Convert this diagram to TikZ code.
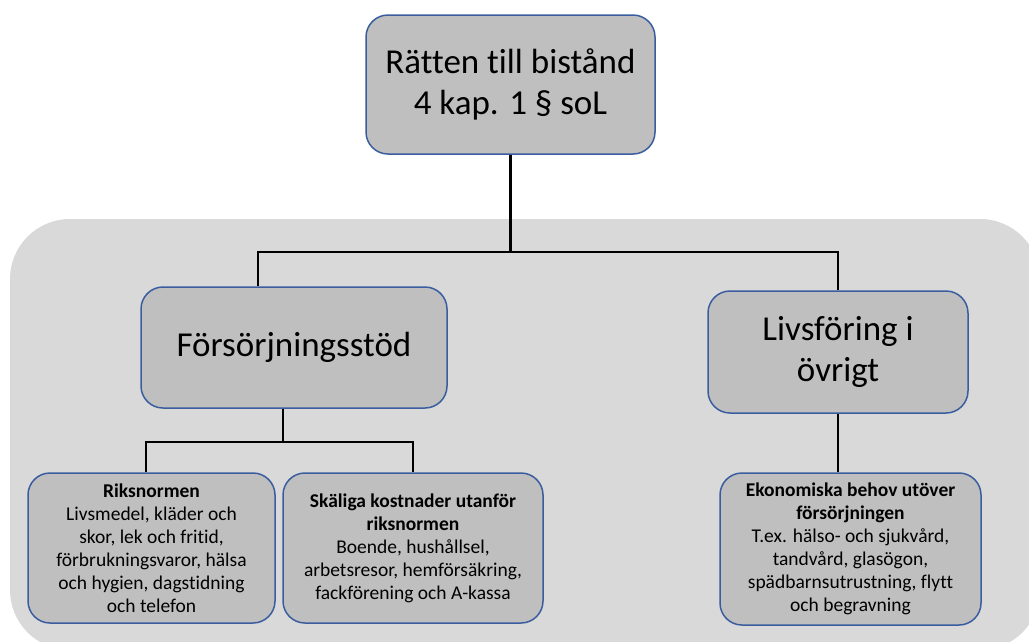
\documentclass[tikz,border=0pt]{standalone}
\usepackage{fontspec}
\setmainfont[Ligatures=NoCommon]{Carlito}
\usetikzlibrary{positioning}
\definecolor{bggray}{HTML}{D9D9D9}
\definecolor{boxgray}{HTML}{BFBFBF}
\definecolor{boxblue}{HTML}{3A5DA0}

\begin{document}
\begin{tikzpicture}[x=1pt, y=1pt,
  bigbox/.style={draw=boxblue, fill=boxgray, line width=1.5pt, rounded corners=22pt,
    align=center, inner sep=0pt, font=\fontsize{35}{41}\selectfont},
  smallbox/.style={draw=boxblue, fill=boxgray, line width=1.5pt, rounded corners=22pt,
    align=center, inner sep=0pt, font=\fontsize{19.5}{23}\selectfont},
  link/.style={line width=2.5pt}]

  \useasboundingbox (0,0) rectangle (1029,-641);
  \clip (0,0) rectangle (1029,-641);

  %% background panel
  \fill[bggray, rounded corners=60pt] (10,-219) rectangle (1040,-650);

  %% boxes
  \node[bigbox, minimum width=289pt, minimum height=139pt] (ratt) at (510.5,-84.5)
    {R\"atten till bist\aa nd\\4 kap. 1 \S{} soL};
  \node[bigbox, minimum width=306pt, minimum height=121pt] (fors) at (294,-347.5)
    {F\"ors\"orjningsst\"od};
  \node[bigbox, minimum width=260pt, minimum height=122pt] (livs) at (838,-352)
    {Livsf\"oring i\\\"ovrigt};

  \node[smallbox, minimum width=247pt, minimum height=150pt] (riks) at (151.5,-548)
    {\textbf{Riksnormen}\\Livsmedel, kl\"ader och\\skor, lek och fritid,\\f\"orbrukningsvaror, h\"alsa\\och hygien, dagstidning\\och telefon};
  \node[smallbox, minimum width=260pt, minimum height=150pt] (skal) at (413,-548)
    {\textbf{Sk\"aliga kostnader utanf\"or}\\\textbf{riksnormen}\\Boende, hush\aa llsel,\\arbetsresor, hemf\"ors\"akring,\\fackf\"orening och A-kassa};
  \node[smallbox, minimum width=261pt, minimum height=152pt] (eko) at (850.5,-549)
    {\textbf{Ekonomiska behov ut\"over}\\\textbf{f\"ors\"orjningen}\\T.ex. h\"also- och sjukv\aa rd,\\tandv\aa rd, glas\"ogon,\\sp\"adbarnsutrustning, flytt\\och begravning};

  %% connectors
  \coordinate (busl) at (258,-252);
  \coordinate (busr) at (838,-252);
  \coordinate (subl) at (146,-442);
  \coordinate (subm) at (283,-442);
  \coordinate (subr) at (413,-442);

  \draw[link] (ratt.south) -- (ratt.south |- busl); % top -> bus
  \draw[link] (busl |- fors.north) -- (busl) -- (busr) -- (busr |- livs.north);
  \draw[link] (subm |- fors.south) -- (subm); % fors -> sub bus
  \draw[link] (subl |- riks.north) -- (subl) -- (subr) -- (subr |- skal.north);
  \draw[link] (livs.south) -- (livs.south |- eko.north); % livs -> eko

\end{tikzpicture}
\end{document}
